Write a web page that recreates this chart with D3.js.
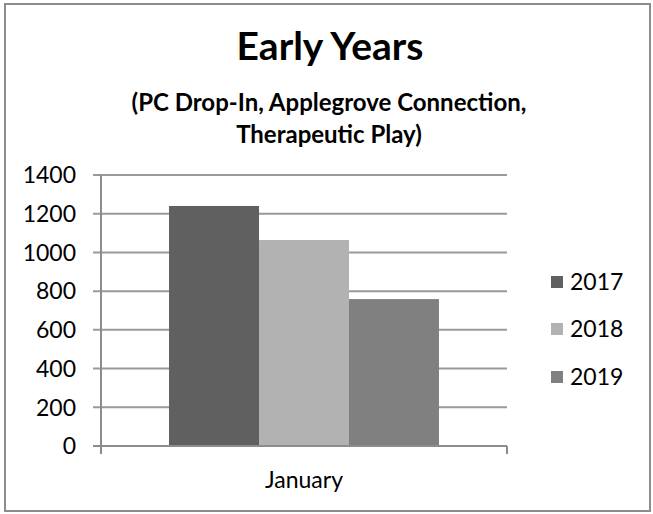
<!DOCTYPE html>
<html>
<head>
<meta charset="utf-8">
<script src="https://cdn.jsdelivr.net/npm/d3@7"></script>
<style>
  html, body { margin: 0; padding: 0; background: #fff; }
  svg { display: block; }
  text { font-family: Lato, "Open Sans", sans-serif; fill: #000; }
</style>
</head>
<body>
<svg id="chart" width="653" height="514"></svg>
<script>
const categories = ["January"];
const seriesNames = ["2017", "2018", "2019"];
const values2017 = [1240];
const values2018 = [1064];
const values2019 = [759];
const yTicks = [0, 200, 400, 600, 800, 1000, 1200, 1400];
const seriesColors = ["#606060", "#b2b2b2", "#808080"];
const titleText = "Early Years";
const subtitleLines = ["(PC Drop-In, Applegrove Connection,", "Therapeutic Play)"];

const seriesValues = [values2017, values2018, values2019];

const svg = d3.select("#chart");

// outer border
svg.append("rect")
  .attr("x", 5).attr("y", 4).attr("width", 645).attr("height", 507)
  .attr("fill", "#fff").attr("stroke", "#8c8c8c").attr("stroke-width", 2);

// title
svg.append("text")
  .attr("x", 330).attr("y", 60)
  .attr("text-anchor", "middle")
  .style("font-size", "39px").style("font-weight", "bold")
  .text(titleText);

subtitleLines.forEach((s, i) => {
  svg.append("text")
    .attr("x", 329).attr("y", 111 + i * 32)
    .attr("text-anchor", "middle")
    .style("font-size", "24px").style("font-weight", "bold")
    .text(s);
});

// plot area
const plot = { left: 101, right: 507, top: 175, bottom: 446 };

const y = d3.scaleLinear().domain([0, 1400]).range([plot.bottom, plot.top]);
const x0 = d3.scaleBand().domain(categories).range([plot.left, plot.right])
  .paddingInner(0).paddingOuter(0.252);
const x1 = d3.scaleBand().domain(seriesNames).range([0, x0.bandwidth()]).padding(0);

// gridlines
svg.append("g")
  .selectAll("line").data(yTicks).join("line")
  .attr("x1", plot.left - 8).attr("x2", plot.right)
  .attr("y1", d => y(d)).attr("y2", d => y(d))
  .attr("stroke", "#9a9a9a").attr("stroke-width", 2);

// bars
const groups = svg.append("g").selectAll("g").data(categories).join("g")
  .attr("transform", d => `translate(${x0(d)},0)`);
groups.selectAll("rect")
  .data((c, ci) => seriesNames.map((s, si) => ({ s, v: seriesValues[si][ci], color: seriesColors[si] })))
  .join("rect")
  .attr("x", d => x1(d.s))
  .attr("y", d => y(d.v))
  .attr("width", x1.bandwidth())
  .attr("height", d => y(0) - y(d.v))
  .attr("fill", d => d.color);

// y axis line
svg.append("line")
  .attr("x1", plot.left).attr("x2", plot.left)
  .attr("y1", plot.top).attr("y2", plot.bottom + 8)
  .attr("stroke", "#8c8c8c").attr("stroke-width", 2);
// baseline
svg.append("line")
  .attr("x1", plot.left - 8).attr("x2", plot.right)
  .attr("y1", plot.bottom).attr("y2", plot.bottom)
  .attr("stroke", "#8c8c8c").attr("stroke-width", 2);
// right category tick
svg.append("line")
  .attr("x1", plot.right).attr("x2", plot.right)
  .attr("y1", plot.bottom).attr("y2", plot.bottom + 8)
  .attr("stroke", "#8c8c8c").attr("stroke-width", 2);

// y tick labels
svg.append("g").selectAll("text").data(yTicks).join("text")
  .attr("x", 76).attr("y", d => y(d))
  .attr("dy", "0.36em")
  .attr("text-anchor", "end")
  .style("font-size", "23px")
  .text(d => d);

// x category labels
svg.append("g").selectAll("text").data(categories).join("text")
  .attr("x", d => x0(d) + x0.bandwidth() / 2)
  .attr("y", 488)
  .attr("text-anchor", "middle")
  .style("font-size", "23px")
  .text(d => d);

// legend
const legendY = [282, 329, 377];
const legend = svg.append("g").selectAll("g").data(seriesNames).join("g")
  .attr("transform", (d, i) => `translate(551,${legendY[i]})`);
legend.append("rect")
  .attr("x", 0).attr("y", -6).attr("width", 12).attr("height", 12)
  .attr("fill", (d, i) => seriesColors[i]);
legend.append("text")
  .attr("x", 19).attr("y", 0).attr("dy", "0.36em")
  .style("font-size", "23px")
  .text(d => d);
</script>
</body>
</html>
